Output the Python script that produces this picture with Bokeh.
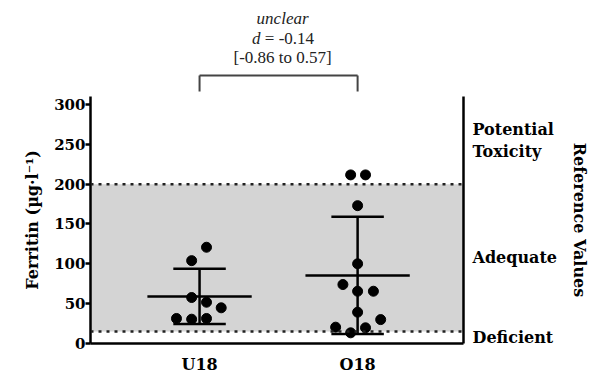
import numpy as np
from bokeh.plotting import figure
from bokeh.layouts import column
from bokeh.models import (Range1d, LinearAxis, FixedTicker, BoxAnnotation, Span)
from bokeh.core.properties import value
from bokeh.embed import file_html
from bokeh.resources import INLINE

# ---------------- data ----------------
groups = ["U18", "O18"]
u18_values = [120.8, 104.0, 57.7, 51.8, 44.8, 31.4, 30.5, 31.4]
u18_jitter = [0.044, -0.05, -0.05, 0.044, 0.137, -0.146, -0.05, 0.044]
o18_values = [211.6, 211.6, 173.0, 100.0, 74.0, 65.6, 65.6, 39.3, 30.0, 20.5, 19.7, 13.4]
o18_jitter = [-0.044, 0.05, 0.0, 0.0, -0.093, 0.0, 0.1, 0.0, 0.146, -0.139, 0.05, -0.044]
ref_bounds = [0, 15, 200, 310]
ref_names = ["Deficient", "Adequate", "Potential\nToxicity"]
y_ticks = [0, 50, 100, 150, 200, 250, 300]
effect_label = "unclear"
effect_d = "-0.14"
effect_ci = "[-0.86 to 0.57]"

BOLD = "DejaVu Serif"
SERIF = "Liberation Serif"
W = 592
BL, BR = 90, 129
TOP_H = 92
xr = Range1d(0.31, 2.67)
xs_pos = [1, 2]

# ---------------- top annotation strip ----------------
top = figure(width=W, height=TOP_H, x_range=xr, y_range=Range1d(0, TOP_H),
             output_backend="svg", toolbar_location=None,
             x_axis_location=None, y_axis_location=None,
             min_border_left=BL, min_border_right=BR, min_border_top=0, min_border_bottom=0)
top.outline_line_color = None
top.xgrid.grid_line_color = None
top.ygrid.grid_line_color = None

br_low, br_high = 1, 17
top.segment(x0=xs_pos + [xs_pos[0]], x1=xs_pos + [xs_pos[1]],
            y0=[br_low, br_low, br_high], y1=[br_high, br_high, br_high],
            line_color="#444444", line_width=2)
xm = (xs_pos[0] + xs_pos[1]) / 2
tstyle = dict(text_font=value(SERIF), text_font_size="17px", text_color="#222222",
              text_baseline="middle")
top.text(x=[xm], y=[74], text=[effect_label], text_align="center", x_offset=4,
         text_font_style="italic", **tstyle)
top.text(x=[xm], y=[54], text=["d"], text_align="right", x_offset=-18,
         text_font_style="italic", **tstyle)
top.text(x=[xm], y=[54], text=["\u00a0= " + effect_d], text_align="left", x_offset=-18, **tstyle)
top.text(x=[xm], y=[35], text=[effect_ci], text_align="center", x_offset=4, **tstyle)

# ---------------- main plot ----------------
p = figure(width=W, height=376 - TOP_H, x_range=xr, y_range=Range1d(0, ref_bounds[-1]),
           output_backend="svg", toolbar_location=None,
           min_border_left=BL, min_border_right=BR, min_border_top=4, min_border_bottom=33)
p.outline_line_color = None
p.xgrid.grid_line_color = None
p.ygrid.grid_line_color = None

p.add_layout(BoxAnnotation(bottom=ref_bounds[1], top=ref_bounds[2], fill_color="#d4d4d4",
                           fill_alpha=1.0, line_color=None, level="underlay"))
for loc in ref_bounds[1:3]:
    p.add_layout(Span(location=loc, dimension="width", line_color="#222222", line_width=2.5,
                      line_dash="3 5"))

all_vals = [u18_values, o18_values]
all_jit = [u18_jitter, o18_jitter]
means = [float(np.mean(v)) for v in all_vals]
sds = [float(np.std(v, ddof=1)) for v in all_vals]

x0s, x1s, y0s, y1s = [], [], [], []
for xc, m, s in zip(xs_pos, means, sds):
    x0s.append(xc - 0.33); x1s.append(xc + 0.33); y0s.append(m); y1s.append(m)
    for yy in (m - s, m + s):
        x0s.append(xc - 0.166); x1s.append(xc + 0.166); y0s.append(yy); y1s.append(yy)
    x0s.append(xc); x1s.append(xc); y0s.append(m - s); y1s.append(m + s)
p.segment(x0=x0s, x1=x1s, y0=y0s, y1=y1s, line_color="black", line_width=2.5)

px, py = [], []
for xc, vals, jit in zip(xs_pos, all_vals, all_jit):
    px += [xc + j for j in jit]
    py += vals
p.scatter(px, py, marker="circle", size=10, fill_color="black", line_color="black")

ya = p.yaxis[0]
ya.ticker = FixedTicker(ticks=y_ticks)
ya.minor_tick_line_color = None
ya.axis_line_width = 2.5
ya.major_tick_line_width = 2.5
ya.major_tick_out = 5
ya.major_tick_in = 0
ya.major_label_standoff = 0
ya.major_label_text_font = BOLD
ya.major_label_text_font_style = "bold"
ya.major_label_text_font_size = "15px"
ya.major_label_text_color = "black"
ya.axis_label = "Ferritin (µg·l⁻¹)"
ya.axis_label_text_font = BOLD
ya.axis_label_text_font_style = "bold"
ya.axis_label_text_font_size = "16px"
ya.axis_label_text_color = "black"
ya.axis_label_standoff = 9

xa = p.xaxis[0]
xa.ticker = FixedTicker(ticks=xs_pos)
xa.major_label_overrides = {x: g for x, g in zip(xs_pos, groups)}
xa.major_tick_line_color = None
xa.minor_tick_line_color = None
xa.major_tick_out = 0
xa.major_tick_in = 0
xa.axis_line_width = 2.5
xa.major_label_standoff = 11
xa.major_label_text_font = BOLD
xa.major_label_text_font_style = "bold"
xa.major_label_text_font_size = "16px"
xa.major_label_text_color = "black"

mids = [(a + b) / 2 for a, b in zip(ref_bounds[:-1], ref_bounds[1:])]
ra = LinearAxis(ticker=FixedTicker(ticks=mids),
                major_label_overrides={m: n for m, n in zip(mids, ref_names)})
ra.axis_line_width = 2.5
ra.major_tick_line_color = None
ra.minor_tick_line_color = None
ra.major_tick_out = 0
ra.major_tick_in = 0
ra.major_label_standoff = 9
ra.major_label_text_font = BOLD
ra.major_label_text_font_style = "bold"
ra.major_label_text_font_size = "16px"
ra.major_label_text_color = "black"
ra.major_label_text_line_height = 1.17
ra.axis_label = "Reference Values"
ra.axis_label_text_font = BOLD
ra.axis_label_text_font_style = "bold"
ra.axis_label_text_font_size = "16px"
ra.axis_label_text_color = "black"
ra.axis_label_standoff = 10
p.add_layout(ra, "right")

layout = column(top, p, spacing=0)
open("out.html", "w").write(file_html(layout, INLINE))
